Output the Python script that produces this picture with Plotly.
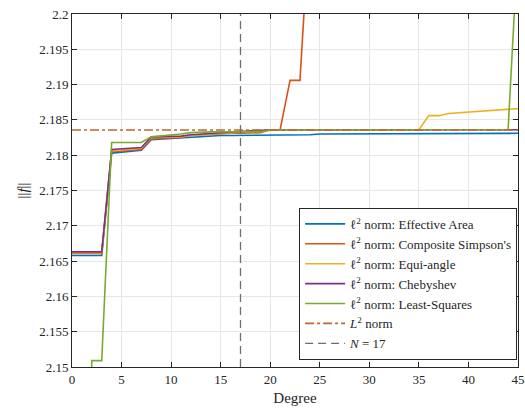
import plotly.graph_objects as go

degree = list(range(0, 46))

effective_area = [2.1658, 2.1658, 2.1658, 2.1658, 2.1803, 2.1804, 2.1806, 2.1807, 2.1822, 2.1823,
                  2.1823, 2.1824, 2.1826, 2.1827, 2.1827, 2.1828, 2.1828, 2.1828, 2.1829, 2.1829,
                  2.1829, 2.1829, 2.1829, 2.1829, 2.1829, 2.1830, 2.1830, 2.1830, 2.1830, 2.1830,
                  2.1830, 2.1830, 2.1830, 2.1830, 2.1830, 2.1830, 2.1831, 2.1831, 2.1831, 2.1831,
                  2.1831, 2.1831, 2.1831, 2.1831, 2.1831, 2.1831]

simpson = [2.1661, 2.1661, 2.1661, 2.1661, 2.1805, 2.1806, 2.1808, 2.1808, 2.1823, 2.1824,
           2.1825, 2.1825, 2.1828, 2.1829, 2.1830, 2.1831, 2.1831, 2.1831, 2.1831, 2.1832,
           2.1836, 2.1836, 2.1906, 2.1906, 2.2140]

equi_angle = [2.1662, 2.1662, 2.1662, 2.1662, 2.1806, 2.1807, 2.1809, 2.1810, 2.1825, 2.1825,
              2.1826, 2.1826, 2.1828, 2.1829, 2.1830, 2.1831, 2.1832, 2.1833, 2.1834, 2.1835,
              2.1836, 2.1836, 2.1836, 2.1836, 2.1836, 2.1836, 2.1836, 2.1836, 2.1836, 2.1836,
              2.1836, 2.1836, 2.1836, 2.1836, 2.1836, 2.1836, 2.1856, 2.1856, 2.1859, 2.1860,
              2.1862, 2.1862, 2.1864, 2.1864, 2.1866, 2.1866]

chebyshev = [2.1663, 2.1663, 2.1663, 2.1663, 2.1808, 2.1809, 2.1811, 2.1811, 2.1826, 2.1826,
             2.1827, 2.1827, 2.1829, 2.1830, 2.1831, 2.1832, 2.1832, 2.1833, 2.1834, 2.1835,
             2.1836, 2.1836, 2.1836, 2.1836, 2.1836, 2.1836, 2.1836, 2.1836, 2.1836, 2.1836,
             2.1836, 2.1836, 2.1836, 2.1836, 2.1836, 2.1836, 2.1836, 2.1836, 2.1836, 2.1836,
             2.1836, 2.1836, 2.1836, 2.1836, 2.1836, 2.1836]

least_squares = [2.0800, 2.1000, 2.1509, 2.1509, 2.1818, 2.1818, 2.1818, 2.1818, 2.1826, 2.1827,
                 2.1828, 2.1830, 2.1832, 2.1833, 2.1833, 2.1833, 2.1833, 2.1833, 2.1833, 2.1833,
                 2.1836, 2.1836, 2.1836, 2.1836, 2.1836, 2.1836, 2.1836, 2.1836, 2.1836, 2.1836,
                 2.1836, 2.1836, 2.1836, 2.1836, 2.1836, 2.1836, 2.1836, 2.1836, 2.1836, 2.1836,
                 2.1836, 2.1836, 2.1836, 2.1836, 2.1836, 2.2100]

L2_norm = 2.18357
N_value = 17

x_range = [0, 45]
y_range = [2.15, 2.2]
x_ticks = [0, 5, 10, 15, 20, 25, 30, 35, 40, 45]
y_ticks = [2.15, 2.155, 2.16, 2.165, 2.17, 2.175, 2.18, 2.185, 2.19, 2.195, 2.2]
y_ticklabels = ["2.15", "2.155", "2.16", "2.165", "2.17", "2.175", "2.18", "2.185", "2.19", "2.195", "2.2"]

series = [
    ("ℓ<sup>2</sup> norm: Effective Area", effective_area, "#0072BD"),
    ("ℓ<sup>2</sup> norm: Composite Simpson's", simpson, "#D95319"),
    ("ℓ<sup>2</sup> norm: Equi-angle", equi_angle, "#EDB120"),
    ("ℓ<sup>2</sup> norm: Chebyshev", chebyshev, "#7E2F8E"),
    ("ℓ<sup>2</sup> norm: Least-Squares", least_squares, "#77AC30"),
]

fig = go.Figure()
for name, vals, col in series:
    fig.add_trace(go.Scatter(x=degree[:len(vals)], y=vals, mode="lines", name=name,
                             line=dict(color=col, width=1.6)))

fig.add_trace(go.Scatter(x=x_range, y=[L2_norm, L2_norm], mode="lines",
                         name="<i>L</i><sup>2</sup> norm",
                         line=dict(color="#C0662E", width=1.6, dash="dashdot")))
fig.add_trace(go.Scatter(x=[N_value, N_value], y=y_range, mode="lines",
                         name="<i>N</i> = 17",
                         line=dict(color="#6E6E6E", width=1.3, dash="8px,5px")))

font_family = "'Liberation Serif', 'Times New Roman', 'DejaVu Serif', serif"
fig.update_layout(
    width=525, height=411,
    margin=dict(l=72, r=7, t=14, b=44),
    paper_bgcolor="white", plot_bgcolor="white",
    font=dict(family=font_family, size=13, color="#262626"),
    showlegend=True,
    legend=dict(x=0.998, y=0.02, xanchor="right", yanchor="bottom",
                bgcolor="white", bordercolor="#262626", borderwidth=1,
                font=dict(family=font_family, size=13, color="#262626"),
                tracegroupgap=0, itemwidth=40),
)
fig.update_xaxes(range=x_range, tickvals=x_ticks, showgrid=True, gridcolor="#E6E6E6",
                 zeroline=False, showline=True, linecolor="#262626", linewidth=1,
                 mirror="ticks", ticks="inside", ticklen=5, tickcolor="#262626",
                 automargin=False, tickfont=dict(family=font_family, size=13),
                 title=dict(text="Degree", standoff=6, font=dict(family=font_family, size=15)))
fig.update_yaxes(range=y_range, tickvals=y_ticks, ticktext=y_ticklabels, showgrid=True,
                 gridcolor="#E6E6E6", zeroline=False, showline=True, linecolor="#262626",
                 linewidth=1, mirror="ticks", ticks="inside", ticklen=5, tickcolor="#262626",
                 automargin=False, tickfont=dict(family=font_family, size=13),
                 title=dict(text="||<i>f</i>||", standoff=6, font=dict(family=font_family, size=15)))

fig.write_html("out.html", config={"displayModeBar": False},
               post_script="document.body.style.margin='0px';")
